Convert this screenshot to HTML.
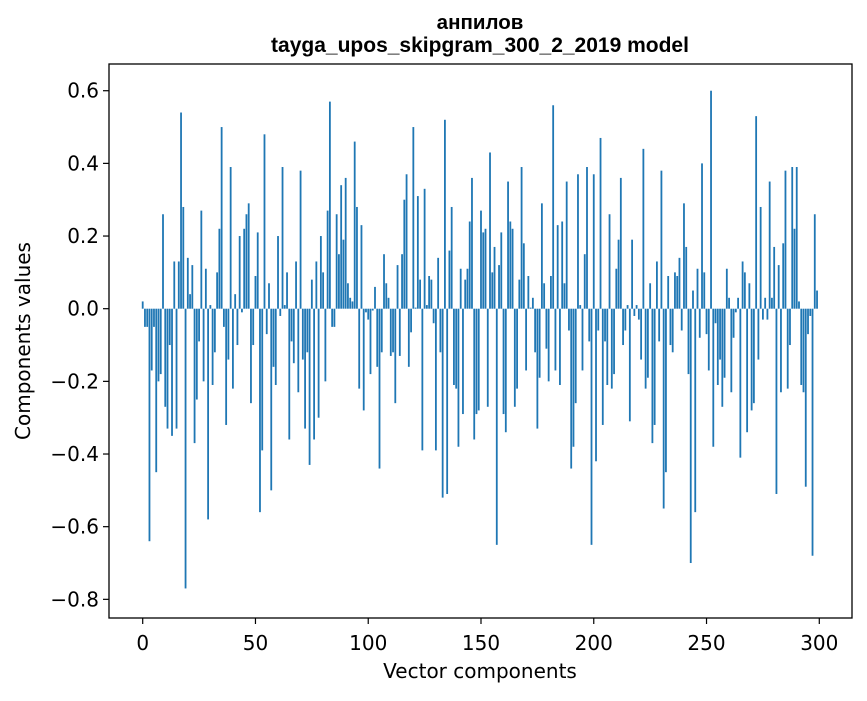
<!DOCTYPE html>
<html><head><meta charset="utf-8"><style>
html,body{margin:0;padding:0;background:#fff;}
svg text{font-family:"DejaVu Sans","Liberation Sans",sans-serif;fill:#000;}
</style></head><body>
<svg id="chart" width="867" height="696" viewBox="0 0 867 696" xmlns="http://www.w3.org/2000/svg">
<rect x="0" y="0" width="867" height="696" fill="#fff"/>
<text x="480" y="29" text-anchor="middle" font-size="20.5" font-weight="bold" style="font-family:'Liberation Sans',sans-serif">анпилов</text>
<text x="480" y="52" text-anchor="middle" font-size="21" font-weight="bold" style="font-family:'Liberation Sans',sans-serif">tayga_upos_skipgram_300_2_2019 model</text>
<g id="bars"></g>
<g id="yticks"></g>
<g id="xticks"></g>
<rect x="109" y="64" width="743" height="554" fill="none" stroke="#000" stroke-width="1.3"/>
<text x="480" y="678" text-anchor="middle" font-size="20">Vector components</text>
<text transform="translate(30,341) rotate(-90)" text-anchor="middle" font-size="20">Components values</text>
</svg>
<script>
const values = [
0.02,-0.05,-0.05,-0.64,-0.17,-0.05,-0.45,-0.20,-0.18,0.26,
-0.27,-0.33,-0.10,-0.35,0.13,-0.33,0.13,0.54,0.28,-0.77,
0.14,0.04,0.12,-0.37,-0.25,-0.09,0.27,-0.20,0.11,-0.58,
0.01,-0.21,-0.12,0.10,0.22,0.50,-0.05,-0.32,-0.14,0.39,
-0.22,0.04,-0.10,0.20,-0.01,0.22,0.26,0.29,-0.26,-0.10,
0.09,0.21,-0.56,-0.39,0.48,-0.07,0.07,-0.50,-0.16,-0.21,
0.20,-0.02,0.39,0.01,0.10,-0.36,-0.09,-0.15,0.13,-0.23,
0.38,-0.14,-0.33,-0.12,-0.43,0.08,-0.36,0.13,-0.30,0.20,
0.10,-0.20,0.27,0.57,-0.05,-0.05,0.26,0.15,0.34,0.19,
0.36,0.07,0.03,0.02,0.46,0.28,-0.22,0.23,-0.28,-0.01,
-0.03,-0.18,-0.005,0.06,-0.16,-0.44,-0.12,0.15,0.07,0.03,
-0.13,-0.12,-0.26,0.12,-0.13,0.15,0.30,0.37,-0.16,-0.065,
0.50,0.003,0.31,0.08,-0.39,0.33,0.01,0.09,0.08,-0.04,
-0.39,0.14,-0.12,-0.52,0.52,-0.51,0.16,0.28,-0.21,-0.22,
-0.38,0.11,-0.29,0.08,0.11,0.24,0.36,-0.36,-0.29,-0.28,
0.27,0.21,0.22,-0.27,0.43,0.10,0.17,-0.65,0.12,0.21,
-0.29,-0.34,0.35,0.24,0.22,-0.27,-0.22,0.08,0.39,0.18,
-0.17,0.09,0.003,0.03,-0.12,-0.33,-0.19,0.29,0.07,-0.11,
-0.20,0.09,0.56,-0.17,0.23,-0.21,0.24,0.07,0.35,-0.06,
-0.44,-0.38,-0.26,0.37,0.01,-0.17,0.15,0.39,-0.09,-0.65,
0.37,-0.42,-0.06,0.47,-0.32,-0.09,-0.21,0.26,-0.22,-0.18,
0.11,0.19,0.36,-0.10,-0.06,0.01,-0.31,0.19,-0.02,0.01,
-0.03,-0.14,0.44,-0.22,-0.19,0.07,-0.37,-0.32,0.13,-0.09,
0.38,-0.55,-0.45,0.09,-0.10,-0.12,0.10,0.09,0.14,-0.06,
0.29,0.17,-0.18,-0.70,0.05,-0.56,0.11,-0.08,0.40,0.10,
-0.07,-0.17,0.60,-0.38,-0.04,-0.21,-0.14,-0.27,-0.19,0.11,
0.03,-0.23,-0.08,-0.01,0.03,-0.41,0.13,0.10,-0.34,0.07,
-0.28,-0.26,0.53,-0.14,0.28,-0.03,0.03,-0.03,0.35,0.03,
0.17,-0.51,0.12,-0.23,0.18,0.38,-0.22,-0.10,0.39,0.22,
0.39,0.02,-0.21,-0.23,-0.49,-0.07,-0.02,-0.68,0.26,0.05
];
const yTicks = [0.6,0.4,0.2,0.0,-0.2,-0.4,-0.6,-0.8];
const yTickLabels = ["0.6","0.4","0.2","0.0","\u22120.2","\u22120.4","\u22120.6","\u22120.8"];
const xTicks = [0,50,100,150,200,250,300];
const xTickLabels = ["0","50","100","150","200","250","300"];

const NS = "http://www.w3.org/2000/svg";
function xScale(v){ return 142.7 + v * 2.2553; }
function yScale(v){ return 308.7 - v * 363.3; }

const bars = document.getElementById('bars');
values.forEach(function(v, i){
  const r = document.createElementNS(NS, 'rect');
  const y0 = yScale(0), y1 = yScale(v);
  r.setAttribute('x', xScale(i - 0.4));
  r.setAttribute('width', 0.8 * 2.2553);
  r.setAttribute('y', Math.min(y0, y1));
  r.setAttribute('height', Math.max(Math.abs(y1 - y0), 0.3));
  r.setAttribute('fill', '#1f77b4');
  
  
  bars.appendChild(r);
});

const yg = document.getElementById('yticks');
yTicks.forEach(function(t, i){
  const y = yScale(t);
  const l = document.createElementNS(NS, 'line');
  l.setAttribute('x1', 103); l.setAttribute('x2', 109);
  l.setAttribute('y1', y); l.setAttribute('y2', y);
  l.setAttribute('stroke', '#000'); l.setAttribute('stroke-width', '1.2');
  
  
  yg.appendChild(l);
  const tx = document.createElementNS(NS, 'text');
  tx.setAttribute('x', 99); tx.setAttribute('y', y + 7);
  tx.setAttribute('text-anchor', 'end'); tx.setAttribute('font-size', '20');
  tx.textContent = yTickLabels[i];
  
  
  yg.appendChild(tx);
});

const xg = document.getElementById('xticks');
xTicks.forEach(function(t, i){
  const x = xScale(t);
  const l = document.createElementNS(NS, 'line');
  l.setAttribute('x1', x); l.setAttribute('x2', x);
  l.setAttribute('y1', 618); l.setAttribute('y2', 624);
  l.setAttribute('stroke', '#000'); l.setAttribute('stroke-width', '1.2');
  
  
  xg.appendChild(l);
  const tx = document.createElementNS(NS, 'text');
  tx.setAttribute('x', x); tx.setAttribute('y', 650);
  tx.setAttribute('text-anchor', 'middle'); tx.setAttribute('font-size', '20');
  tx.textContent = xTickLabels[i];
  
  
  xg.appendChild(tx);
});
</script>
</body></html>
